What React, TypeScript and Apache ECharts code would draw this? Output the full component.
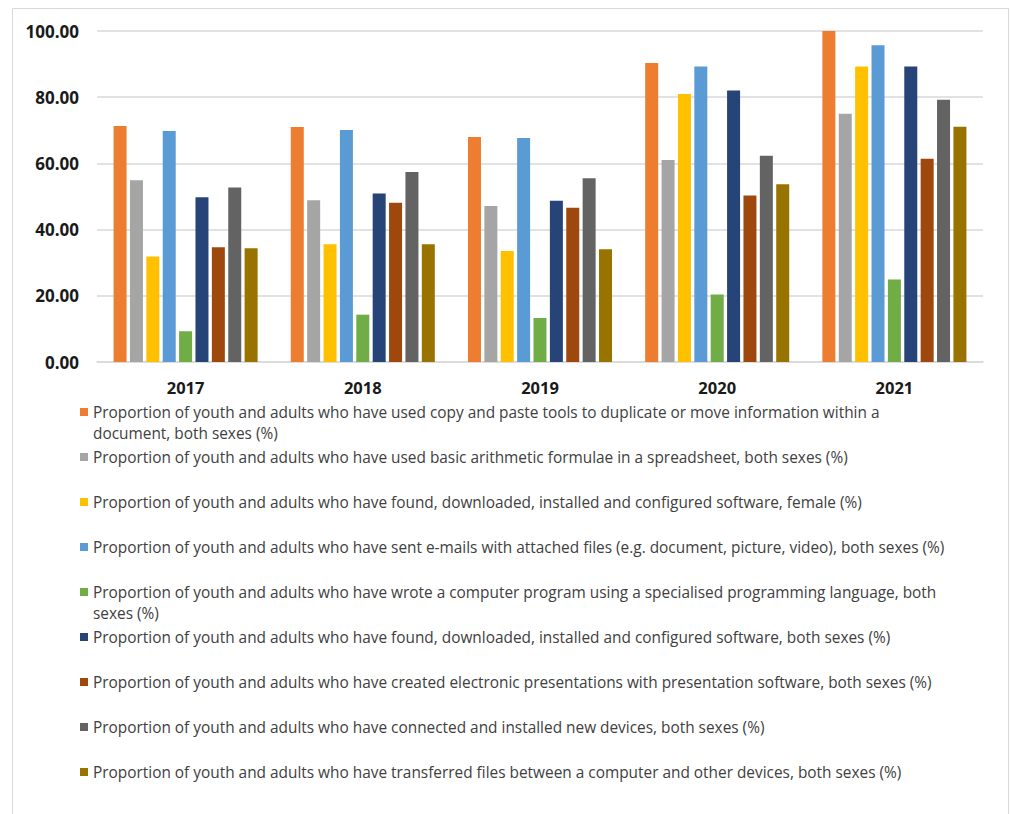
import React, { useEffect, useRef } from "react";
import * as echarts from "echarts";

const years = ["2017", "2018", "2019", "2020", "2021"];

const seriesNames = [
  "Proportion of youth and adults who have used copy and paste tools to duplicate or move information within a document, both sexes (%)",
  "Proportion of youth and adults who have used basic arithmetic formulae in a spreadsheet, both sexes (%)",
  "Proportion of youth and adults who have found, downloaded, installed and configured software, female (%)",
  "Proportion of youth and adults who have sent e-mails with attached files (e.g. document, picture, video), both sexes (%)",
  "Proportion of youth and adults who have wrote a computer program using a specialised programming language, both sexes (%)",
  "Proportion of youth and adults who have found, downloaded, installed and configured software, both sexes (%)",
  "Proportion of youth and adults who have created electronic presentations with presentation software, both sexes (%)",
  "Proportion of youth and adults who have connected and installed new devices, both sexes (%)",
  "Proportion of youth and adults who have transferred files between a computer and other devices, both sexes (%)",
];

const copyPaste = [71.3, 71.0, 68.0, 90.3, 100.0];
const arithmetic = [54.9, 48.9, 47.1, 61.0, 75.0];
const softwareFemale = [31.9, 35.6, 33.5, 81.0, 89.3];
const emails = [69.8, 70.1, 67.7, 89.3, 95.7];
const programming = [9.3, 14.3, 13.3, 20.4, 24.9];
const softwareBoth = [49.8, 50.9, 48.7, 82.0, 89.3];
const presentations = [34.7, 48.1, 46.6, 50.3, 61.4];
const devices = [52.7, 57.4, 55.5, 62.3, 79.2];
const transfers = [34.4, 35.6, 34.1, 53.7, 71.1];

const allValues = [
  copyPaste,
  arithmetic,
  softwareFemale,
  emails,
  programming,
  softwareBoth,
  presentations,
  devices,
  transfers,
];

const colors = [
  "#ED7D31",
  "#A5A5A5",
  "#FFC000",
  "#5B9BD5",
  "#70AD47",
  "#264478",
  "#9E480E",
  "#636363",
  "#997300",
];

// where the legend text wraps (Excel-style), index -> words that start the second line
const wrapBefore: Record<number, string> = { 0: "document, both", 4: "sexes (%)" };

const legendRowCenters = [412, 457, 502, 547, 592, 637, 682, 727, 772];

const fontLegend = "'Open Sans', 'Liberation Sans', sans-serif";
const fontAxis = "'Open Sans', 'Liberation Sans', sans-serif";
const LINE_H = 21;

export default function App() {
  const ref = useRef<HTMLDivElement>(null);

  useEffect(() => {
    if (!ref.current) return;
    const chart = echarts.init(ref.current, undefined, { renderer: "svg" });

    const legends = seriesNames.map((name, i) => {
      const twoLine = wrapBefore[i] !== undefined;
      return {
        show: true,
        data: [name],
        orient: "vertical",
        left: 80,
        top: twoLine
          ? legendRowCenters[i] - LINE_H * 1.5
          : legendRowCenters[i] - LINE_H / 2,
        padding: 0,
        itemWidth: 8,
        itemHeight: 8,
        itemGap: 0,
        icon: "rect",
        selectedMode: false,
        formatter: (n: string) => {
          const w = wrapBefore[i];
          if (w === undefined) return n;
          const idx = n.lastIndexOf(" " + w);
          // leading blank line keeps the marker level with the first text line
          return " \n" + n.slice(0, idx) + "\n" + n.slice(idx + 1);
        },
        textStyle: {
          fontFamily: fontLegend,
          fontSize: 15.4,
          color: "#404040",
          lineHeight: LINE_H,
        },
      };
    });

    chart.setOption({
      animation: false,
      backgroundColor: "#ffffff",
      color: colors,
      graphic: [
        {
          type: "rect",
          left: 10,
          top: 6,
          shape: { width: 996, height: 830 },
          style: { fill: "none", stroke: "#d9d9d9", lineWidth: 1 },
          silent: true,
        },
      ],
      legend: legends,
      grid: {
        left: 97,
        right: 27,
        top: 31,
        height: 331,
        containLabel: false,
      },
      xAxis: {
        type: "category",
        data: years,
        axisLine: { lineStyle: { color: "#d9d9d9", width: 1.5 } },
        axisTick: { show: false },
        axisLabel: {
          fontFamily: fontAxis,
          fontWeight: "bold",
          fontSize: 16.5,
          color: "#1a1a1a",
          margin: 17,
        },
      },
      yAxis: {
        type: "value",
        min: 0,
        max: 100,
        interval: 20,
        axisLine: { show: false },
        axisTick: { show: false },
        splitLine: { lineStyle: { color: "#d9d9d9", width: 1.5 } },
        axisLabel: {
          fontFamily: fontAxis,
          fontWeight: "bold",
          fontSize: 17,
          color: "#1a1a1a",
          margin: 18,
          formatter: (v: number) => v.toFixed(2),
        },
      },
      series: seriesNames.map((name, i) => ({
        name,
        type: "bar",
        data: allValues[i],
        barWidth: 13,
        barGap: "26%",
        itemStyle: { color: colors[i] },
      })),
    });

    return () => chart.dispose();
  }, []);

  return (
    <div
      ref={ref}
      style={{ position: "fixed", left: 0, top: 0, width: 1010, height: 814 }}
    />
  );
}
